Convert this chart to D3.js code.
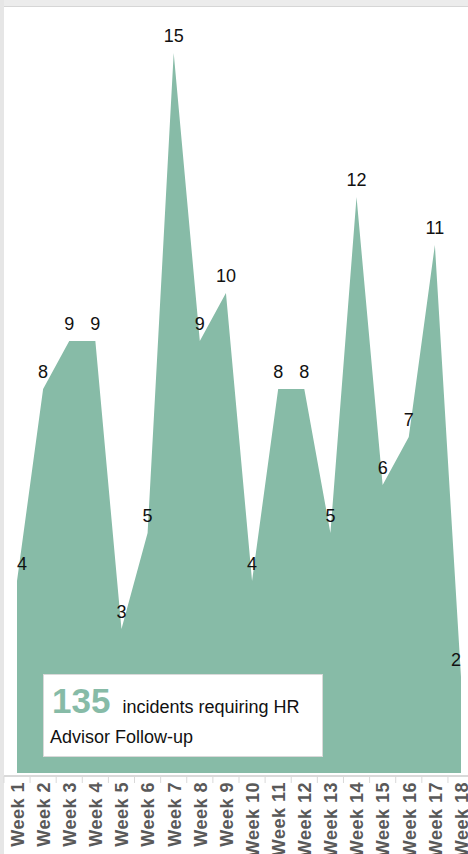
<!DOCTYPE html>
<html>
  <head>
    <script src="https://d3js.org/d3.v7.min.js"></script>
    <style>
      body { margin: 0; background-color: #fff; }
      svg { display: block; font-family: Arial, "Liberation Sans", sans-serif; }
    </style>
  </head>
  <body>
    <svg id="canvas" width="468" height="854"></svg>
  </body>

  <script>
    // incidents per week
    const weeks = ['Week 1', 'Week 2', 'Week 3', 'Week 4', 'Week 5', 'Week 6', 'Week 7', 'Week 8', 'Week 9',
                   'Week 10', 'Week 11', 'Week 12', 'Week 13', 'Week 14', 'Week 15', 'Week 16', 'Week 17', 'Week 18']
    const incidents = [4, 8, 9, 9, 3, 5, 15, 9, 10, 4, 8, 8, 5, 12, 6, 7, 11, 2]
    const boxLine1 = 'incidents requiring HR'
    const boxLine2 = 'Advisor Follow-up'

    const green = '#87bba7'
    const width = 468
    const height = 854

    const data = weeks.map((w, i) => ({ week: w, value: incidents[i] }))
    const total = d3.sum(incidents)

    const svg = d3.select('#canvas')

    // frame (grey border top and left)
    svg.append('rect').attr('x', 0).attr('y', 0).attr('width', width).attr('height', 7).attr('fill', '#ececec')
    svg.append('line').attr('x1', 4).attr('x2', width).attr('y1', 6.5).attr('y2', 6.5).attr('stroke', '#d6d6d6')
    svg.append('rect').attr('x', 0).attr('y', 0).attr('width', 4).attr('height', height).attr('fill', '#e6e6e6')

    const x = d3.scalePoint().domain(weeks).range([17, 461])
    const y = d3.scaleLinear().domain([0, 15]).range([773, 53])

    // area
    const area = d3.area()
      .x(d => x(d.week))
      .y0(y(0))
      .y1(d => y(d.value))

    svg.append('path')
      .datum(data)
      .attr('d', area)
      .attr('fill', green)

    // data labels
    svg.append('g').selectAll('text')
      .data(data)
      .join('text')
        .attr('x', d => Math.max(22, Math.min(456, x(d.week))))
        .attr('y', d => y(d.value) - 11)
        .attr('text-anchor', 'middle')
        .attr('font-size', 18)
        .attr('fill', '#111')
        .text(d => d.value)

    // x axis
    const step = x.step()
    svg.append('line')
      .attr('x1', 4).attr('x2', width)
      .attr('y1', 776).attr('y2', 776)
      .attr('stroke', '#d9d9d9').attr('stroke-width', 2)

    svg.append('g').selectAll('line')
      .data(weeks)
      .join('line')
        .attr('x1', d => x(d) - step / 2)
        .attr('x2', d => x(d) - step / 2)
        .attr('y1', 776).attr('y2', 783)
        .attr('stroke', '#d9d9d9')

    const xAxis = svg.append('g')
      .attr('transform', 'translate(0, 782)')
      .call(d3.axisBottom(x).tickSize(0).tickPadding(0))
    xAxis.select('.domain').remove()
    xAxis.selectAll('text')
      .attr('transform', 'rotate(-90)')
      .attr('x', 0)
      .attr('y', 0)
      .attr('dy', '0.35em')
      .attr('text-anchor', 'end')
      .attr('font-size', 18)
      .attr('letter-spacing', 0.5)
      .attr('font-weight', 'bold')
      .attr('font-family', 'Arial, "Liberation Sans", sans-serif')
      .attr('fill', '#595959')

    // summary box
    const box = svg.append('g').attr('transform', 'translate(43, 674)')
    box.append('rect')
      .attr('x', 0.5).attr('y', 0.5)
      .attr('width', 279).attr('height', 82)
      .attr('fill', '#fff')
      .attr('stroke', '#d9d9d9')
    const line1 = box.append('text').attr('x', 9).attr('y', 39)
    line1.append('tspan')
      .attr('font-size', 35)
      .attr('font-weight', 'bold')
      .attr('fill', green)
      .text(total)
    line1.append('tspan')
      .attr('dx', 12)
      .attr('font-size', 18)
      .attr('fill', '#111')
      .text(boxLine1)
    box.append('text')
      .attr('x', 7).attr('y', 69)
      .attr('font-size', 18)
      .attr('fill', '#111')
      .text(boxLine2)
  </script>
</html>
